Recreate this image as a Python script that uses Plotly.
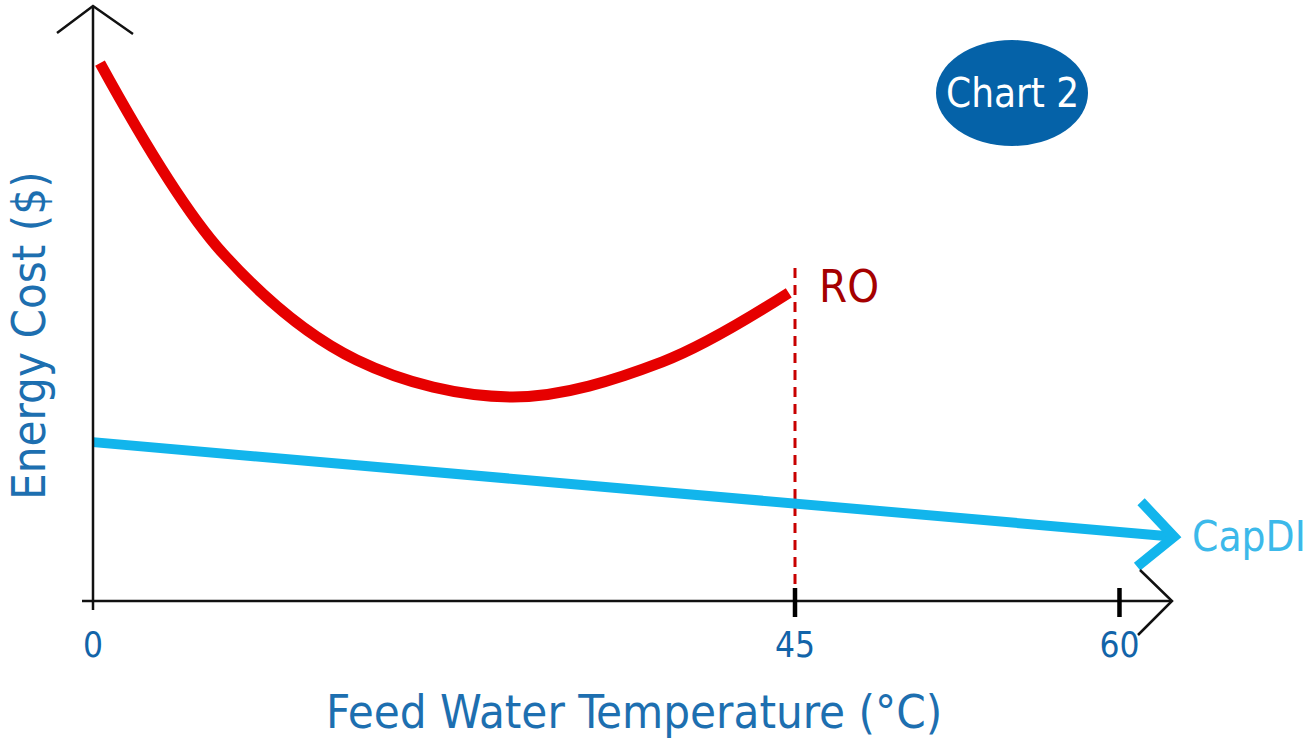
import plotly.graph_objects as go

# ---------------- data ----------------
ro_temp = [0.45, 8.3, 16.9, 26.9, 36.5, 44.6]
ro_cost = [90.4, 58.5, 40.5, 34.3, 40.2, 51.8]
capdi_temp = [0.0, 69.3]
capdi_cost = [26.7, 10.8]
ro_limit_temp = 45
ro_limit_top = 56.0
tick_positions = [0, 45, 65.8]
tick_labels = ["0", "45", "60"]

W, H = 1310, 738
# pixel scale used for decorations (px per data unit)
X0_PX, Y0_PX = 93, 601
SX, SY = 15.6, 5.95
x_range = [-X0_PX / SX, (W - X0_PX) / SX]
y_range = [-(H - Y0_PX) / SY, Y0_PX / SY]

FONT = "DejaVu Sans Condensed, Liberation Sans Narrow, Roboto, sans-serif"

def dx(px):
    return px / SX

def dy(px):
    return px / SY

fig = go.Figure()

# RO curve
fig.add_trace(go.Scatter(x=ro_temp, y=ro_cost, mode="lines",
                         line=dict(color="#e60000", width=11, shape="spline", smoothing=1.0),
                         hoverinfo="skip", showlegend=False))
# RO limit dashed line
fig.add_trace(go.Scatter(x=[ro_limit_temp, ro_limit_temp], y=[0, ro_limit_top], mode="lines",
                         line=dict(color="#c80000", width=3, dash="10px,7px"),
                         hoverinfo="skip", showlegend=False))
# CapDI line
fig.add_trace(go.Scatter(x=capdi_temp, y=capdi_cost, mode="lines",
                         line=dict(color="#12b5ec", width=10),
                         hoverinfo="skip", showlegend=False))
# CapDI arrowhead (relative to line end)
ex, ey = capdi_temp[-1], capdi_cost[-1]
fig.add_trace(go.Scatter(x=[ex - dx(33), ex, ex - dx(37)],
                         y=[ey + dy(35), ey, ey - dy(30)], mode="lines",
                         line=dict(color="#12b5ec", width=10),
                         hoverinfo="skip", showlegend=False))

shapes = []
# axes
x_end = x_range[1] - dx(W - 1172)
y_top = y_range[1] - dy(6)
shapes.append(dict(type="line", x0=-dx(11), x1=x_end, y0=0, y1=0,
                   line=dict(color="#111", width=2.5)))
shapes.append(dict(type="line", x0=0, x1=0, y0=-dy(9), y1=y_top,
                   line=dict(color="#111", width=2.5)))
# axis arrowheads
shapes.append(dict(type="path",
                   path=f"M {x_end - dx(32)} {dy(31)} L {x_end} 0 L {x_end - dx(34)} {-dy(34)}",
                   line=dict(color="#111", width=2.5)))
shapes.append(dict(type="path",
                   path=f"M {-dx(36)} {y_top - dy(27)} L 0 {y_top} L {dx(40)} {y_top - dy(28)}",
                   line=dict(color="#111", width=2.5)))
# tick marks at 45 and 60
for tp in tick_positions[1:]:
    shapes.append(dict(type="line", x0=tp, x1=tp, y0=dy(13), y1=-dy(16),
                       line=dict(color="#000", width=4.5)))
# Chart 2 badge
shapes.append(dict(type="circle", x0=dx(936 - X0_PX), x1=dx(1088 - X0_PX),
                   y0=dy(Y0_PX - 146), y1=dy(Y0_PX - 40),
                   fillcolor="#0562a8", line=dict(width=0)))

annotations = [
    dict(x=dx(1012 - X0_PX), y=dy(Y0_PX - 93), text="Chart 2", showarrow=False,
         xanchor="center", yanchor="middle",
         font=dict(family=FONT, size=40, color="white")),
    dict(x=ro_limit_temp + dx(22), y=ro_limit_top - dy(19), text="RO", showarrow=False,
         xanchor="left", yanchor="middle",
         font=dict(family=FONT, size=45, color="#a50000")),
    dict(x=ex + dx(16), y=ey, text="CapDI", showarrow=False, xanchor="left", yanchor="middle",
         font=dict(family=FONT, size=42, color="#3cb9ea")),
    dict(x=634 / W, y=1 - 711 / H, xref="paper", yref="paper", text="Feed Water Temperature (°C)",
         showarrow=False, xanchor="center", yanchor="middle",
         font=dict(family=FONT, size=47, color="#1d6fb0")),
    dict(x=28 / W, y=1 - 336 / H, xref="paper", yref="paper", text="Energy Cost ($)",
         showarrow=False, textangle=-90, xanchor="center", yanchor="middle",
         font=dict(family=FONT, size=47, color="#1d6fb0")),
]

fig.update_layout(
    width=W, height=H, margin=dict(l=0, r=0, t=0, b=0, pad=0),
    paper_bgcolor="white", plot_bgcolor="white",
    shapes=shapes, annotations=annotations,
    xaxis=dict(range=x_range, anchor="free", position=(H - Y0_PX) / H,
               tickvals=tick_positions, ticktext=tick_labels,
               tickfont=dict(family=FONT, size=35, color="#1264a9"),
               ticklabelstandoff=20,
               showgrid=False, zeroline=False, showline=False, ticks="",
               fixedrange=True),
    yaxis=dict(range=y_range, showticklabels=False, showgrid=False,
               zeroline=False, showline=False, ticks="", fixedrange=True),
)

fig.write_html("out.html", config={"displayModeBar": False},
               post_script="document.body.style.margin='0';document.body.style.overflow='hidden';")
